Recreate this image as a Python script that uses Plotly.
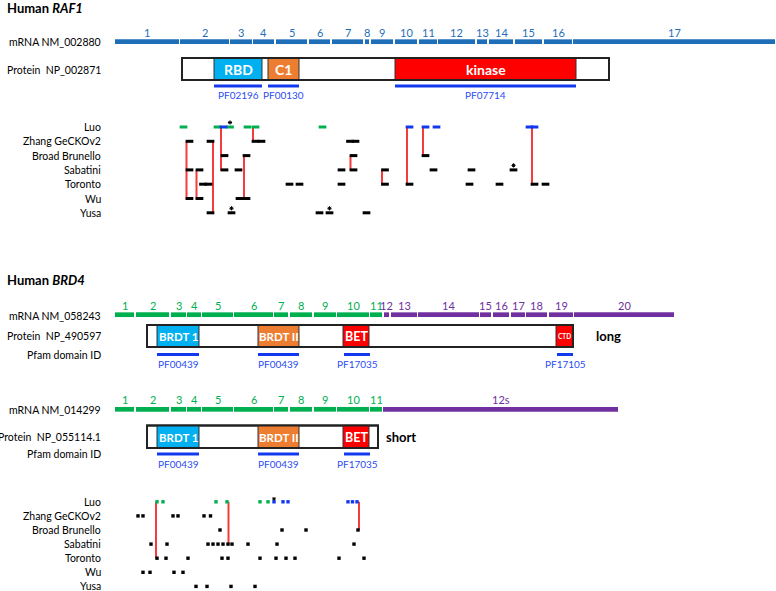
import plotly.graph_objects as go

# ---------------- DATA (diagram positions) ----------------
# RAF1 mRNA exons (start, end)
raf1_exon_start = [115, 180, 230, 253, 276, 309, 332, 365, 371, 395, 419, 438, 477, 489, 515, 544, 573]
raf1_exon_end = [179, 229, 252, 274, 307, 330, 363, 369, 393, 417, 437, 475, 487, 513, 542, 572, 775]
raf1_exon_labels = [str(i) for i in range(1, 18)]

raf1_protein = (182, 609)
raf1_domain_names = ["RBD", "C1", "kinase"]
raf1_domain_start = [214, 268, 395]
raf1_domain_end = [262, 299, 576]
raf1_domain_colors = ["#00B0F0", "#ED7D31", "#FF0000"]
raf1_pfam_ids = ["PF02196", "PF00130", "PF07714"]
raf1_pfam_start = [214, 268, 395]
raf1_pfam_end = [262, 299, 576]

# BRD4 long isoform exons
brd4_long_start = [115, 136, 171, 187, 202, 234, 274, 290, 314, 337, 370, 384, 391, 418, 480, 493, 511, 526, 549, 574]
brd4_long_end = [134, 169, 186, 201, 233, 273, 288, 312, 336, 369, 382, 389, 417, 479, 491, 509, 525, 547, 573, 674]
brd4_long_labels = [str(i) for i in range(1, 21)]
# BRD4 short isoform exons
brd4_short_start = [115, 136, 171, 187, 202, 234, 274, 290, 314, 337, 370, 383]
brd4_short_end = [134, 169, 186, 201, 233, 273, 288, 312, 336, 369, 382, 618]
brd4_short_labels = [str(i) for i in range(1, 12)] + ["12s"]

brd4_long_protein = (147, 573)
brd4_short_protein = (147, 378)
brd4_domain_names = ["BRDT 1", "BRDT II", "BET", "CTD"]
brd4_domain_start = [157, 258, 343, 556]
brd4_domain_end = [199, 299, 369, 573]
brd4_domain_colors = ["#00B0F0", "#ED7D31", "#FF0000", "#FF0000"]
brd4_pfam_ids = ["PF00439", "PF00439", "PF17035", "PF17105"]
brd4_pfam_start = [157, 258, 344, 557]
brd4_pfam_end = [199, 299, 370, 573]

libraries = ["Luo", "Zhang GeCKOv2", "Broad Brunello", "Sabatini", "Toronto", "Wu", "Yusa"]

# RAF1 sgRNA positions per library
raf1_luo_green = [183.5, 217.5, 230, 247.5, 255.5, 322.5]
raf1_luo_blue = [223.5, 409.5, 425.5, 436.5, 529.5, 534.5]
raf1_zhang = [189.5, 210.5, 255.5, 261.5, 350, 355.5]
raf1_broad = [224.5, 246.5, 353.5, 425.5]
raf1_sabatini = [189.5, 199.5, 224.5, 238.5, 341.5, 353.5, 385, 433.5, 471.5, 513.5]
raf1_toronto = [203, 208.5, 289.5, 299.5, 341.5, 385, 409.5, 469.5, 499.5, 534.5, 545.5]
raf1_wu = [189.5, 199.5, 239.5, 246.5]
raf1_yusa = [210.5, 231.5, 319.5, 329.5, 366.5]
# asterisks: (position, library row)
raf1_star_pos = [230, 513.5, 231.5, 329.5]
raf1_star_lib = ["Luo", "Sabatini", "Yusa", "Yusa"]
# red links: position, from library, to library
raf1_link_pos = [186.5, 196.5, 213, 221, 244, 253, 350.5, 382, 407, 423, 532]
raf1_link_from = ["Zhang GeCKOv2", "Sabatini", "Zhang GeCKOv2", "Luo", "Broad Brunello", "Luo",
                  "Broad Brunello", "Sabatini", "Luo", "Luo", "Luo"]
raf1_link_to = ["Wu", "Wu", "Yusa", "Sabatini", "Wu", "Zhang GeCKOv2",
                "Sabatini", "Toronto", "Toronto", "Broad Brunello", "Toronto"]

# BRD4 sgRNA positions per library
brd4_luo_green = [157, 163, 216, 227, 260, 268]
brd4_luo_blue = [274, 283, 288, 348, 352.5, 357]
brd4_zhang = [138, 143, 173, 178, 204, 210.5]
brd4_broad = [220, 282, 306, 358]
brd4_sabatini = [151, 167, 208, 213, 218, 223, 228, 232, 248, 277, 354]
brd4_toronto = [157, 166, 188, 222, 228, 260, 276, 286, 295, 339, 364]
brd4_wu = [143, 150, 174, 183]
brd4_yusa = [196, 207, 231, 255]
brd4_star_pos = [274]
brd4_star_lib = ["Luo"]
brd4_link_pos = [156, 228.5, 359]
brd4_link_from = ["Luo", "Luo", "Luo"]
brd4_link_to = ["Toronto", "Sabatini", "Broad Brunello"]

# ---------------- LAYOUT CONSTANTS ----------------
W, H = 776, 591
FONT = "Lato"
LABEL_X = 103
LBL_SIZE = 10.5
GREEN = "#00B050"
PURPLE = "#7030A0"
RAF_BLUE = "#1F6FB8"
PFAM_BLUE = "#1238F0"
PFAM_TXT = "#2A4CF2"
MARK_BLUE = "#1238F0"
RED_LINK = "#F53B3B"

raf1_rows = {lib: 127 + i * 14.3 for i, lib in enumerate(libraries)}
brd4_rows = {lib: 501.8 + i * 14.1 for i, lib in enumerate(libraries)}

fig = go.Figure()
shapes = []
annotations = []


def text(x, y, s, size=LBL_SIZE, color="black", anchor="right", bold=False, family=FONT):
    if bold:
        s = "<b>" + s + "</b>"
    annotations.append(dict(x=x, y=y, xref="x", yref="y", text=s, showarrow=False,
                            xanchor=anchor, yanchor="middle",
                            font=dict(family=family, size=size, color=color)))


def exon_track(starts, ends, labels, colors, y, label_y, thick=4.7):
    for s, e, lab, c in zip(starts, ends, labels, colors):
        shapes.append(dict(type="rect", xref="x", yref="y", x0=s, x1=e,
                           y0=y - thick / 2, y1=y + thick / 2,
                           fillcolor=c, line=dict(width=0), layer="above"))
        text((s + e) / 2, label_y, lab, size=11, color=c, anchor="center")


def protein(box, names, starts, ends, colors, y0, y1, sizes):
    shapes.append(dict(type="rect", xref="x", yref="y", x0=box[0], x1=box[1], y0=y0, y1=y1,
                       fillcolor="white", line=dict(color="#222222", width=1.8), layer="above"))
    for n, s, e, c, fs in zip(names, starts, ends, colors, sizes):
        shapes.append(dict(type="rect", xref="x", yref="y", x0=s, x1=e, y0=y0, y1=y1,
                           fillcolor=c, line=dict(color="#333333", width=1), layer="above"))
        text((s + e) / 2, (y0 + y1) / 2 + 0.5, n, size=fs, color="white", anchor="center", bold=True)
    shapes.append(dict(type="rect", xref="x", yref="y", x0=box[0], x1=box[1], y0=y0, y1=y1,
                       fillcolor="rgba(0,0,0,0)", line=dict(color="#222222", width=1.8), layer="above"))


def pfam(ids, starts, ends, y, ty):
    for pid, s, e in zip(ids, starts, ends):
        shapes.append(dict(type="line", xref="x", yref="y", x0=s, x1=e, y0=y, y1=y,
                           line=dict(color=PFAM_BLUE, width=3), layer="above"))
        text((s + e) / 2, ty, pid, size=10, color=PFAM_TXT, anchor="center")


# ---------------- RAF1 ----------------
annotations.append(dict(x=5, y=8, xref="x", yref="y", showarrow=False, xanchor="left",
                        yanchor="middle", text="<b>Human <i>RAF1</i></b>",
                        font=dict(family=FONT, size=13, color="black")))
text(LABEL_X, 42, "mRNA NM_002880")
exon_track(raf1_exon_start, raf1_exon_end, raf1_exon_labels,
           [RAF_BLUE] * len(raf1_exon_start), 41.7, 32)
text(LABEL_X, 69.5, "Protein  NP_002871")
protein(raf1_protein, raf1_domain_names, raf1_domain_start, raf1_domain_end,
        raf1_domain_colors, 58, 80, [14, 14, 14])
pfam(raf1_pfam_ids, raf1_pfam_start, raf1_pfam_end, 86, 94.5)

for lib in libraries:
    text(LABEL_X, raf1_rows[lib], lib)


def dash_trace(xs, y, color):
    fig.add_trace(go.Scatter(x=xs, y=[y] * len(xs), mode="markers", hoverinfo="skip",
                             marker=dict(symbol="line-ew", size=5.5, color=color,
                                         line=dict(color=color, width=3))))


def square_trace(xs, y, color):
    fig.add_trace(go.Scatter(x=xs, y=[y] * len(xs), mode="markers", hoverinfo="skip",
                             marker=dict(symbol="square", size=3.4, color=color,
                                         line=dict(width=0))))


def links(pos, frm, to, rows, top_off, bot_off):
    xs, ys = [], []
    for p, f, t in zip(pos, frm, to):
        xs += [p, p, None]
        ys += [rows[f] + top_off, rows[t] + bot_off, None]
    fig.add_trace(go.Scatter(x=xs, y=ys, mode="lines", hoverinfo="skip",
                             line=dict(color=RED_LINK, width=2)))


def stars(pos, libs, rows, off, size):
    fig.add_trace(go.Scatter(x=pos, y=[rows[l] - off for l in libs], mode="markers",
                             hoverinfo="skip",
                             marker=dict(symbol="asterisk", size=size, color="black",
                                         line=dict(color="black", width=1))))


links(raf1_link_pos, raf1_link_from, raf1_link_to, raf1_rows, 0, 1)
dash_trace(raf1_luo_green, raf1_rows["Luo"], GREEN)
dash_trace(raf1_luo_blue, raf1_rows["Luo"], MARK_BLUE)
raf1_black = [raf1_zhang, raf1_broad, raf1_sabatini, raf1_toronto, raf1_wu, raf1_yusa]
for lib, xs in zip(libraries[1:], raf1_black):
    dash_trace(xs, raf1_rows[lib], "black")
stars(raf1_star_pos, raf1_star_lib, raf1_rows, 4.5, 3.5)

# ---------------- BRD4 ----------------
annotations.append(dict(x=5, y=280, xref="x", yref="y", showarrow=False, xanchor="left",
                        yanchor="middle", text="<b>Human <i>BRD4</i></b>",
                        font=dict(family=FONT, size=13, color="black")))
col_long = [GREEN] * 11 + [PURPLE] * 9
col_short = [GREEN] * 11 + [PURPLE]
text(LABEL_X, 315.5, "mRNA NM_058243")
exon_track(brd4_long_start, brd4_long_end, brd4_long_labels, col_long, 314.7, 305)
text(LABEL_X, 336, "Protein  NP_490597")
protein(brd4_long_protein, brd4_domain_names, brd4_domain_start, brd4_domain_end,
        brd4_domain_colors, 325, 347, [11.5, 11.5, 12.5, 6.5])
text(594, 336, "long", size=13, anchor="left", bold=True)
text(LABEL_X, 355, "Pfam domain ID")
pfam(brd4_pfam_ids, brd4_pfam_start, brd4_pfam_end, 354.5, 364)

text(LABEL_X, 409.5, "mRNA NM_014299")
exon_track(brd4_short_start, brd4_short_end, brd4_short_labels, col_short, 409.3, 399.3)
text(LABEL_X, 437, "Protein  NP_055114.1")
protein(brd4_short_protein, brd4_domain_names[:3], brd4_domain_start[:3], brd4_domain_end[:3],
        brd4_domain_colors[:3], 425.5, 448, [11.5, 11.5, 12.5])
text(384, 437, "short", size=13, anchor="left", bold=True)
text(LABEL_X, 454, "Pfam domain ID")
pfam(brd4_pfam_ids[:3], brd4_pfam_start[:3], brd4_pfam_end[:3], 454, 463.5)

for lib in libraries:
    text(LABEL_X, brd4_rows[lib], lib)

links(brd4_link_pos, brd4_link_from, brd4_link_to, brd4_rows, 0, 0)
square_trace(brd4_luo_green, brd4_rows["Luo"], GREEN)
square_trace(brd4_luo_blue, brd4_rows["Luo"], MARK_BLUE)
brd4_black = [brd4_zhang, brd4_broad, brd4_sabatini, brd4_toronto, brd4_wu, brd4_yusa]
for lib, xs in zip(libraries[1:], brd4_black):
    square_trace(xs, brd4_rows[lib], "black")
stars(brd4_star_pos, brd4_star_lib, brd4_rows, 3, 3)

fig.update_layout(
    width=W, height=H, autosize=False,
    margin=dict(l=0, r=0, t=0, b=0),
    paper_bgcolor="white", plot_bgcolor="white",
    showlegend=False,
    xaxis=dict(range=[0, W], visible=False, fixedrange=True),
    yaxis=dict(range=[H, 0], visible=False, fixedrange=True),
    shapes=shapes, annotations=annotations,
)
fig.write_html("out.html", config={"displayModeBar": False},
               post_script="document.body.style.margin='0px';document.body.style.overflow='hidden';")
